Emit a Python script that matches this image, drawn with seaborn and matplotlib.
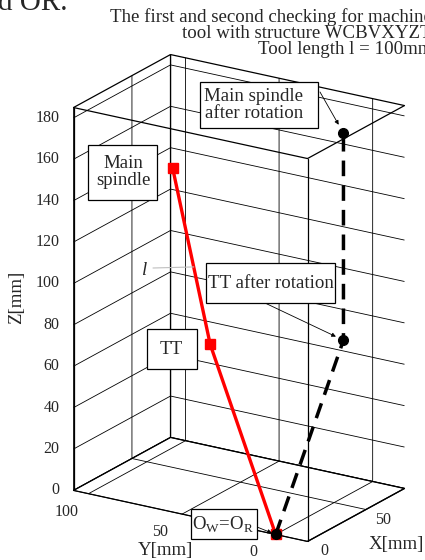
import matplotlib
matplotlib.use("Agg")
import matplotlib.pyplot as plt
from matplotlib.patches import Rectangle
import seaborn as sns
from mpl_toolkits.mplot3d import proj3d

# tool position before rotation (red) and after rotation (black), mm
red_x = [0, 0, 0]
red_y = [0, 35, 55]
red_z = [0, 85, 166]
blk_x = [0, 58, 58]
blk_y = [0, 0, 0]
blk_z = [0, 76, 176]

x_lim = (0, 83)
y_lim = (-17, 108)
z_lim = (0, 185)
x_ticks = [0, 50]
y_ticks = [0, 50, 100]
z_ticks = list(range(0, 181, 20))

title_lines = ["The first and second checking for machine",
               "tool with structure WCBVXYZT",
               "Tool length l = 100mm"]

sns.set_style("white")
plt.rcParams['font.family'] = ['Liberation Serif', 'DejaVu Serif']
plt.rcParams['mathtext.fontset'] = 'custom'
plt.rcParams['mathtext.rm'] = 'Liberation Serif'
plt.rcParams['grid.color'] = 'black'
plt.rcParams['grid.linewidth'] = 0.6

W, H = 425, 560
fig = plt.figure(figsize=(W / 100, H / 100), dpi=100)
S = 510
ax = fig.add_axes([(239 - 0.5135 * S) / W, (262 - 0.5135 * S) / H, S / W, S / H],
                  projection='3d', proj_type='ortho')
ax.view_init(elev=20.19, azim=-147.72)
ax.set_box_aspect((181.6, 276.8, 408))
ax.set_xlim(*x_lim, view_margin=0)
ax.set_ylim(*y_lim, view_margin=0)
ax.set_zlim(*z_lim, view_margin=0)
ax.set_xticks(x_ticks)
ax.set_yticks(y_ticks)
ax.set_zticks(z_ticks)
ax.set_xticklabels([])
ax.set_yticklabels([])
ax.set_zticklabels([])
ax.computed_zorder = False

for axis in (ax.xaxis, ax.yaxis, ax.zaxis):
    axis.set_pane_color((1, 1, 1, 1))
    axis.pane.set_edgecolor('black')
    axis.pane.set_linewidth(0.9)
    axis.line.set_color('black')
    axis.line.set_linewidth(0.9)
    axis._axinfo['grid'].update(color='black', linewidth=0.6)
    axis._axinfo['tick']['inward_factor'] = 0.0
    axis._axinfo['tick']['outward_factor'] = 0.0

# front edges of the box
x0, x1 = x_lim
y0, y1 = y_lim
z1 = z_lim[1]
ax.plot([x0, x0], [y0, y0], [0, z1], color='black', lw=0.9, zorder=1)
ax.plot([x0, x0], [y0, y1], [z1, z1], color='black', lw=0.9, zorder=1)
ax.plot([x0, x1], [y0, y0], [z1, z1], color='black', lw=0.9, zorder=1)

ax.plot(red_x, red_y, red_z, color='red', lw=2.4, marker='s', ms=7, zorder=3)
ax.plot(blk_x, blk_y, blk_z, color='black', lw=2.5, ls=(0, (4.5, 2.6)),
        marker='o', ms=7, zorder=4)

M = ax.get_proj()
def proj(x, y, z):
    px, py, _ = proj3d.proj_transform(x, y, z, M)
    return (px, py)

# tick labels, MATLAB-like placement
tfs = 11.5
for z in z_ticks:
    ax.annotate(str(z), xy=proj(x0, y1, z), xytext=(-14, 0),
                textcoords='offset pixels', ha='right', va='center', fontsize=tfs)
for y in y_ticks:
    ax.annotate(str(y), xy=proj(x0, y, 0), xytext=(-22, -18),
                textcoords='offset pixels', ha='center', va='center', fontsize=tfs)
for x in x_ticks:
    ax.annotate(str(x), xy=proj(x, y0, 0), xytext=(17, -10),
                textcoords='offset pixels', ha='center', va='center', fontsize=tfs)

arr = dict(arrowstyle='-|>', color='black', lw=0.6, mutation_scale=6)
fs = 13.6

def label(txt, left, top, right, bottom, tx, ty):
    # boxed text, box edges and text centre in pixels from the top-left
    fig.add_artist(Rectangle((left / W, 1 - bottom / H), (right - left) / W,
                             (bottom - top) / H, transform=fig.transFigure,
                             fc='white', ec='black', lw=0.9, zorder=2))
    fig.text(tx / W, 1 - ty / H, txt, ha='center', va='center', fontsize=fs,
             linespacing=1.0, zorder=3)

def arrow(pt, sx, sy, shrink):
    ax.annotate('', xy=pt, xycoords='data', xytext=(sx, H - sy),
                textcoords='figure pixels',
                arrowprops=dict(arr, shrinkA=0, shrinkB=shrink))

label("Main spindle\nafter rotation", 200, 82, 318, 128, 254, 105)
arrow(proj(blk_x[2], blk_y[2], blk_z[2]), 320, 92, 7)
label("Main\nspindle", 88, 145, 157, 200, 123, 172)
label("TT after rotation", 206, 263, 335, 303, 271, 283)
arrow(proj(blk_x[1], blk_y[1], blk_z[1]), 265, 303, 6)
label("TT", 147, 329, 197, 369, 171, 349)
label(r"O$_\mathregular{W}$=O$_\mathregular{R}$", 191, 509, 257, 539, 223, 525)
arrow(proj(blk_x[0], blk_y[0], blk_z[0]), 257, 527, 3)

# tool length marker l with a leader line to the red tool
t = 0.44
lx = red_x[1] + t * (red_x[2] - red_x[1])
ly = red_y[1] + t * (red_y[2] - red_y[1])
lz = red_z[1] + t * (red_z[2] - red_z[1])
fig.text(145 / W, 1 - 270 / H, "l", style='italic', fontsize=fs,
         ha='center', va='center')
ax.annotate('', xy=proj(lx, ly, lz), xycoords='data', xytext=(153, H - 268),
            textcoords='figure pixels',
            arrowprops=dict(arrowstyle='-', color='0.75', lw=0.8,
                            shrinkA=0, shrinkB=0))

# axis titles
ax.set_xlabel('')
ax.set_ylabel('')
ax.set_zlabel('')
fig.text(17 / W, 1 - 297 / H, "Z[mm]", rotation=90, fontsize=fs,
         ha='center', va='center')
fig.text(165 / W, 1 - 550 / H, "Y[mm]", fontsize=fs, ha='center', va='center')
fig.text(396 / W, 1 - 544 / H, "X[mm]", fontsize=fs, ha='center', va='center')

for i, line in enumerate(title_lines):
    fig.text(432 / W, 1 - (22.5 + 15.5 * i) / H, line, ha='right',
             va='baseline', fontsize=fs)

# fragment of the running text above the figure
fig.text(-2 / W, 1 - 10 / H, "d OR.", fontsize=21, va='baseline')

fig.savefig("out.png", dpi=100)
